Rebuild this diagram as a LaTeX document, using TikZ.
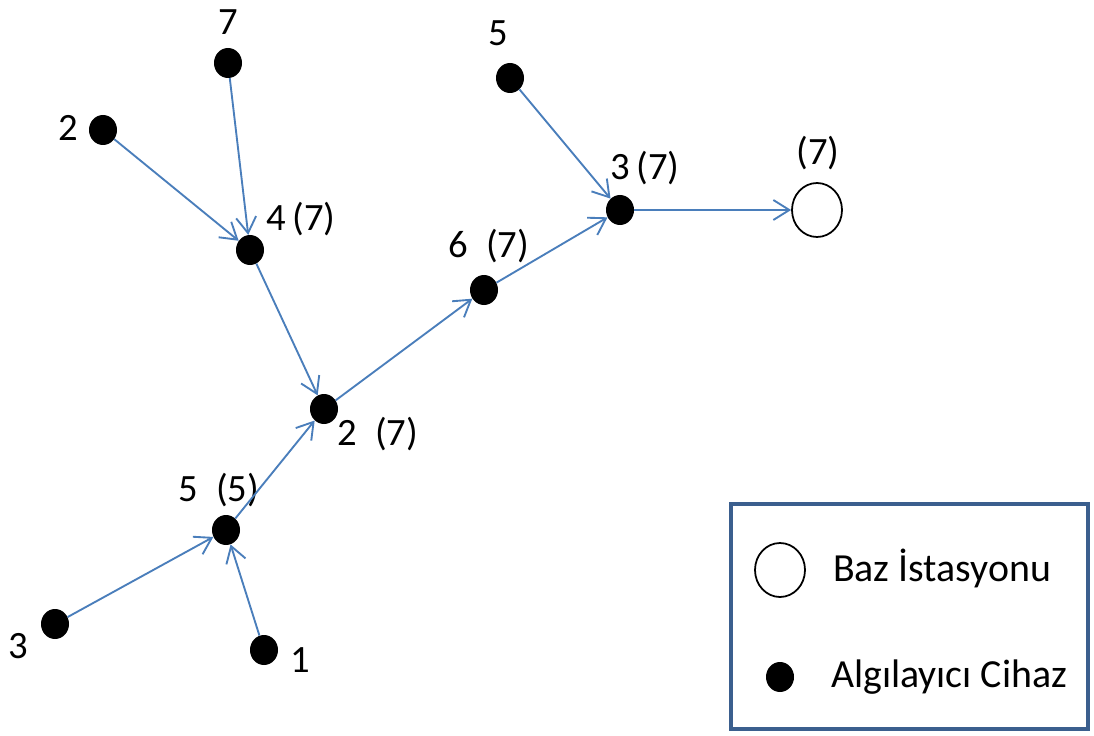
\documentclass[tikz,border=0pt]{standalone}
\usepackage{fontspec}
\setmainfont{Carlito}
\usetikzlibrary{arrows.meta,shapes.geometric}
\definecolor{cEdge}{HTML}{4a7ebb}
\definecolor{cFrame}{HTML}{3b5f8e}
\tikzset{
  >={Straight Barb[length=4.8mm,width=6mm]},
  sens/.style={ellipse,fill=black,inner sep=0pt,minimum width=0.84cm,minimum height=0.9cm},
  base/.style={ellipse,draw=black,line width=1.5pt,fill=white,inner sep=0pt,
               minimum width=1.5cm,minimum height=1.62cm},
  lbl/.style={inner sep=0pt,font=\fontsize{33}{40}\selectfont},
  lgd/.style={lbl,anchor=west,font=\fontsize{34}{41}\selectfont},
  edge/.style={->,line width=1.6pt,cEdge},
}
\begin{document}
\begin{tikzpicture}[x=0.03cm,y=-0.03cm]
  \useasboundingbox (0,0) rectangle (1094,736);
  % sensors
  \node[sens] (n7)  at (228,63)  {};
  \node[sens] (n2)  at (103,130) {};
  \node[sens] (n4)  at (250,250) {};
  \node[sens] (n5)  at (510,78)  {};
  \node[sens] (n3)  at (620,210) {};
  \node[sens] (n6)  at (484,290) {};
  \node[sens] (m2)  at (324,409) {};
  \node[sens] (m5)  at (226,530) {};
  \node[sens] (m3)  at (55,624)  {};
  \node[sens] (n1)  at (264,650) {};
  \node[base] (bs)  at (817,210) {};
  % labels
  \node[lbl] (t7)  at (228,22)  {7};
  \node[lbl] (t2)  at (68,128)  {2};
  \node[lbl] (t4)  at (301,219) {4\,(7)};
  \node[lbl] (t3)  at (645,168) {3\,(7)};
  \node[lbl] (t5)  at (498,33)  {5};
  \node[lbl] (tbs) at (818,153) {(7)};
  \node[lbl] (t6)  at (489,246) {6~~(7)};
  \node[lbl] (u2)  at (378,434) {2~~(7)};
  \node[lbl] (u5)  at (219,490) {5~~(5)};
  \node[lbl] (u3)  at (18,646)  {3};
  \node[lbl] (t1)  at (300,660) {1};
  % edges
  \draw[edge] (n7)--(n4);
  \draw[edge] (n2)--(n4);
  \draw[edge] (n4)--(m2);
  \draw[edge] (m2)--(n6);
  \draw[edge] (n6)--(n3);
  \draw[edge] (n5)--(n3);
  \draw[edge] (n3)--(bs);
  \draw[edge] (m3)--(m5);
  \draw[edge] (n1)--(m5);
  \draw[edge] (m5)--(m2);
  % legend
  \draw[cFrame,line width=3pt] (731,504) rectangle (1088,729);
  \node[base] (lbs) at (780,570) {};
  \node[sens] (lsn) at (780,677) {};
  \node[lgd] (lbst) at (833,568) {Baz İstasyonu};
  \node[lgd] (lsnt) at (831,677) {Algılayıcı Cihaz};
\end{tikzpicture}
\end{document}
